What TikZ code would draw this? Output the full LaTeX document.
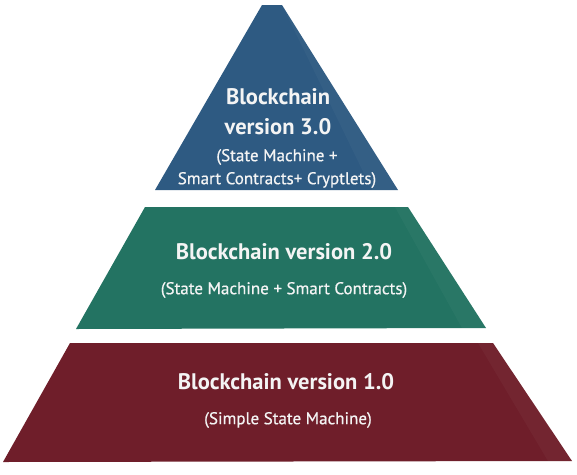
\documentclass[tikz,border=0pt]{standalone}
\usepackage{fontspec}
\setmainfont{PT Sans}
\newfontface\subface[FakeBold=0.6]{PT Sans}
\definecolor{tierblue}{HTML}{2E5A82}
\definecolor{tierteal}{HTML}{237362}
\definecolor{tiermaroon}{HTML}{6F1E2A}
\definecolor{txt}{HTML}{F4F4F4}
\begin{document}
\begin{tikzpicture}[x=1pt,y=-1pt,
  title/.style={text=txt,font=\bfseries\fontsize{22.5}{26}\selectfont,inner sep=0pt,align=center},
  sub/.style={text=txt,font=\subface\fontsize{17}{20}\selectfont,inner sep=0pt,align=center}]
\useasboundingbox (0,0) rectangle (577,474);
% tiers
\fill[tierblue] (262,5) -- (282,5) -- (398,190) -- (155,190) -- cycle;
\fill[tierteal] (145,207) -- (408,207) -- (486,328) -- (76,329) -- cycle;
\fill[tiermaroon] (70,343) -- (493,343) -- (572,461) -- (3,462) -- cycle;
% subtle lighter right facets
\fill[white,opacity=0.03] (282,5) -- (398,190) -- (372,190) -- cycle;
\fill[white,opacity=0.03] (395,207) -- (408,207) -- (486,328) -- (462,328) -- cycle;
\fill[white,opacity=0.03] (478,343) -- (493,343) -- (572,461) -- (548,461) -- cycle;
% texts
\node[title] (t3a) at (278,97) {Blockchain};
\node[title] (t3b) at (278,127) {version 3.0};
\node[sub] (s3a) at (277,157) {(State Machine +};
\node[sub] (s3b) at (277,180) {Smart Contracts+ Cryptlets)};
\node[title] (t2) at (284,252) {Blockchain version 2.0};
\node[sub] (s2) at (284,290) {(State Machine + Smart Contracts)};
\node[title] (t1) at (286,382) {Blockchain version 1.0};
\node[sub] (s1) at (288,420) {(Simple State Machine)};
\end{tikzpicture}
\end{document}
